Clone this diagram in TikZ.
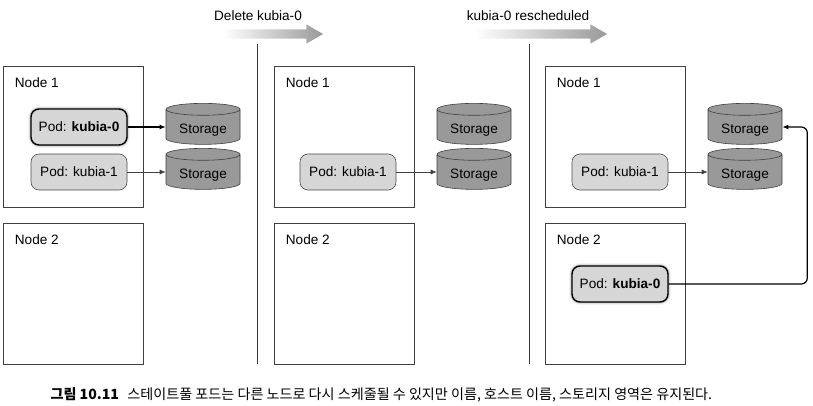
\documentclass[tikz,border=0pt]{standalone}
\usepackage{fontspec}
\setmainfont{Liberation Sans}
\newfontfamily\krfont{Noto Sans CJK KR}
\usetikzlibrary{shapes,shapes.geometric,shapes.arrows,arrows.meta,positioning,shadows.blur}

\begin{document}
\begin{tikzpicture}[x=1pt, y=-1pt,
    font=\fontsize{13.6}{16}\selectfont,
    box/.style={draw=black!75, line width=0.6pt, minimum width=140pt, minimum height=141pt, inner sep=0pt},
    boxname/.style={anchor=north west, inner sep=0pt},
    pod/.style={draw=black!70, fill=black!16, rounded corners=8pt, minimum width=96pt, minimum height=36pt, line width=0.6pt},
    mainpod/.style={pod, draw=black, line width=1.4pt, blur shadow={shadow xshift=0pt, shadow yshift=0pt, shadow blur radius=3pt, shadow opacity=60}},
    storage/.style={cylinder, shape border rotate=90, aspect=0.25, draw=black!75, fill=black!40, minimum width=74pt, minimum height=41pt, inner sep=0pt, text height=16pt, text depth=3pt, line width=0.6pt},
    link/.style={-{Latex[length=6pt,width=5pt]}, draw=black!75, line width=0.7pt},
    mainlink/.style={link, draw=black, line width=1.2pt},
    flow/.style={single arrow, single arrow tip angle=60, single arrow head extend=5pt, single arrow head indent=0pt, inner xsep=0pt, inner ysep=4.5pt, draw=none, left color=white, right color=black!40},
]
    \useasboundingbox (0,0) rectangle (813,406);

    % Steps
    \node[flow, minimum height=100pt] (del) at (269,34) {};
    \node[anchor=base] (dellabel) at (258,21) {Delete kubia-0};
    \node[flow, minimum height=132pt] (res) at (537,34) {};
    \node[anchor=base] (reslabel) at (528,21) {kubia-0 rescheduled};

    % Dividers
    \foreach \x in {257, 529} \draw[black!80, line width=0.7pt] (\x,44) -- (\x,364);

    % Cluster nodes
    \foreach \p/\dx in {a/0, b/271, c/542} {
        \node[box] (n1\p) at (73+\dx,136.5) {};
        \node[box] (n2\p) at (73+\dx,293.5) {};
        \node[boxname] (l1\p) at ([shift={(12pt,-12pt)}]n1\p.north west) {Node 1};
        \node[boxname] (l2\p) at ([shift={(12pt,-12pt)}]n2\p.north west) {Node 2};
        \node[storage] (s0\p) at (203+\dx,127) {Storage};
        \node[storage] (s1\p) at (203+\dx,172) {Storage};
    }

    % Before
    \node[mainpod] (p0a) at (79,127) {Pod: \textbf{kubia-0}};
    \node[pod] (p1a) at (79,172) {Pod: kubia-1};
    \draw[mainlink] (p0a) -- (s0a);
    \draw[link] (p1a) -- (s1a);

    % Deleted
    \node[pod] (p1b) at (348,172) {Pod: kubia-1};
    \draw[link] (p1b) -- (s1b);

    % Rescheduled
    \node[pod] (p1c) at (620,172) {Pod: kubia-1};
    \node[mainpod] (p0c) at (620,284) {Pod: \textbf{kubia-0}};
    \draw[link] (p1c) -- (s1c);
    \draw[mainlink, rounded corners=6pt] (p0c.east) -| ([xshift=25pt]s0c.east) -- (s0c.east);

    % Caption
    \node[anchor=base west, font=\krfont\fontsize{14.1}{16}\selectfont] (cap) at (47,399)
        {\textbf{그림 10.11}\hspace{0.6em}스테이트풀 포드는 다른 노드로 다시 스케줄될 수 있지만 이름, 호스트 이름, 스토리지 영역은 유지된다.};
\end{tikzpicture}
\end{document}
